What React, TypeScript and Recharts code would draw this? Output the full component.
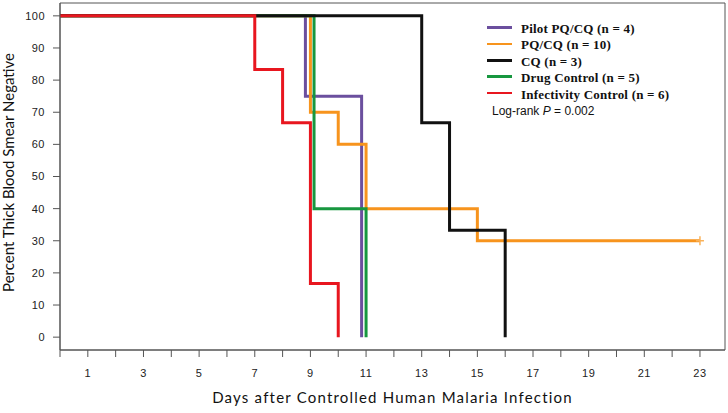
import { ComposedChart, Line, Scatter, XAxis, YAxis, ReferenceArea } from 'recharts';

// Kaplan-Meier style step values: day of each change and % still negative after it
const pilotDays = [0, 8.82, 10.84];
const pilotPct = [100, 75, 0];

const pqcqDays = [0, 9, 10, 11, 15, 23];
const pqcqPct = [100, 70, 60, 40, 30, 30];

const cqDays = [0, 13, 14, 16];
const cqPct = [100, 66.7, 33.3, 0];

const drugDays = [0, 9.13, 11];
const drugPct = [100, 40, 0];

const infectDays = [0, 7, 8, 9, 10];
const infectPct = [100, 83.3, 66.7, 16.7, 0];

// censored observation (PQ/CQ still negative at end of follow-up)
const censorDays = [23];
const censorPct = [30];

const X_TICKS = Array.from({ length: 24 }, (_, i) => i);
const Y_TICKS = [0, 10, 20, 30, 40, 50, 60, 70, 80, 90, 100];

const toPoints = (days: number[], pct: number[]) => days.map((day, i) => ({ day, pct: pct[i] }));

const PILOT = { name: 'Pilot PQ/CQ (n = 4)', color: '#6b4f9e', data: toPoints(pilotDays, pilotPct) };
const PQCQ = { name: 'PQ/CQ (n = 10)', color: '#f7941d', data: toPoints(pqcqDays, pqcqPct) };
const CQ = { name: 'CQ (n = 3)', color: '#111111', data: toPoints(cqDays, cqPct) };
const DRUG = { name: 'Drug Control (n = 5)', color: '#17973f', data: toPoints(drugDays, drugPct) };
const INFECT = { name: 'Infectivity Control (n = 6)', color: '#e8161f', data: toPoints(infectDays, infectPct) };

const LEGEND_ORDER = [PILOT, PQCQ, CQ, DRUG, INFECT];
// black sits above green, red above everything
const DRAW_ORDER = [PILOT, PQCQ, DRUG, CQ, INFECT];

const SANS = '"Liberation Sans", Arial, sans-serif';
const TITLE_FONT = 'Lato, "Open Sans", sans-serif';
const AXIS_COLOR = '#555';

const CensorMark = (props: any) => {
  const { cx, cy } = props;
  return (
    <path
      d={`M${cx - 4},${cy}h8M${cx},${cy - 4.5}v9`}
      stroke="#f9b25a"
      strokeWidth={1.5}
      fill="none"
    />
  );
};

export default function App() {
  return (
    <div style={{ position: 'absolute', left: 0, top: 0, width: 728, height: 413, background: '#fff' }}>
      <ComposedChart width={728} height={413} margin={{ top: 3, right: 3, left: 0, bottom: 0 }}>
        <XAxis
          type="number"
          dataKey="day"
          domain={[0, 23.9]}
          ticks={X_TICKS}
          interval={0}
          allowDataOverflow
          tickFormatter={(v: number) => (v % 2 === 1 ? String(v) : '')}
          height={63}
          tickSize={7}
          tickMargin={12}
          axisLine={{ stroke: AXIS_COLOR }}
          tickLine={{ stroke: AXIS_COLOR }}
          tick={{ fontSize: 11, fill: '#222', fontFamily: SANS, letterSpacing: 0.5 }}
          label={{
            content: (p: any) => {
              const vb = p.viewBox;
              return (
                <text
                  x={vb.x + vb.width / 2}
                  y={403}
                  textAnchor="middle"
                  fontSize={15}
                  fontFamily={TITLE_FONT}
                  fill="#111"
                  letterSpacing={1.2}
                >
                  Days after Controlled Human Malaria Infection
                </text>
              );
            },
          }}
        />
        <YAxis
          type="number"
          domain={[-4, 104]}
          ticks={Y_TICKS}
          interval={0}
          allowDataOverflow
          width={60}
          tickSize={7}
          tickMargin={8}
          axisLine={{ stroke: AXIS_COLOR }}
          tickLine={{ stroke: AXIS_COLOR }}
          tick={{ fontSize: 11, fill: '#222', fontFamily: SANS, letterSpacing: 0.5 }}
          label={{
            content: () => (
              <text
                x={14}
                y={172.5}
                transform="rotate(-90, 14, 172.5)"
                textAnchor="middle"
                fontSize={15}
                fontFamily={TITLE_FONT}
                fill="#111"
              >
                Percent Thick Blood Smear Negative
              </text>
            ),
          }}
        />
        <ReferenceArea
          x1={0}
          x2={23.9}
          y1={-4}
          y2={104}
          fill="none"
          stroke={AXIS_COLOR}
          strokeWidth={1}
          ifOverflow="visible"
        />
        {DRAW_ORDER.map((s) => (
          <Line
            key={s.name}
            name={s.name}
            data={s.data}
            dataKey="pct"
            type="stepAfter"
            stroke={s.color}
            strokeWidth={3}
            dot={false}
            activeDot={false}
            isAnimationActive={false}
          />
        ))}
        <Scatter
          data={toPoints(censorDays, censorPct)}
          dataKey="pct"
          shape={CensorMark}
          isAnimationActive={false}
        />
      </ComposedChart>

      {/* Legend */}
      <div style={{ position: 'absolute', left: 487, top: 21, width: 220 }}>
        {LEGEND_ORDER.map((s, i) => (
          <div
            key={s.name}
            style={{
              position: 'absolute',
              left: 0,
              top: i * 16.4,
              height: 16,
              display: 'flex',
              alignItems: 'center',
              whiteSpace: 'nowrap',
            }}
          >
            <div style={{ width: 25, height: 2.5, background: s.color, marginRight: 9, marginTop: -3 }} />
            <span
              style={{
                fontFamily: '"Liberation Serif", "Times New Roman", serif',
                fontWeight: 'bold',
                fontSize: 13,
                letterSpacing: 0.2,
                color: '#111',
              }}
            >
              {s.name}
            </span>
          </div>
        ))}
        <div
          style={{
            position: 'absolute',
            left: 5,
            top: 5 * 16.4,
            height: 16,
            display: 'flex',
            alignItems: 'center',
            whiteSpace: 'nowrap',
            fontFamily: SANS,
            fontSize: 12,
            color: '#111',
          }}
        >
          Log-rank&nbsp;<i>P</i>&nbsp;= 0.002
        </div>
      </div>
    </div>
  );
}
